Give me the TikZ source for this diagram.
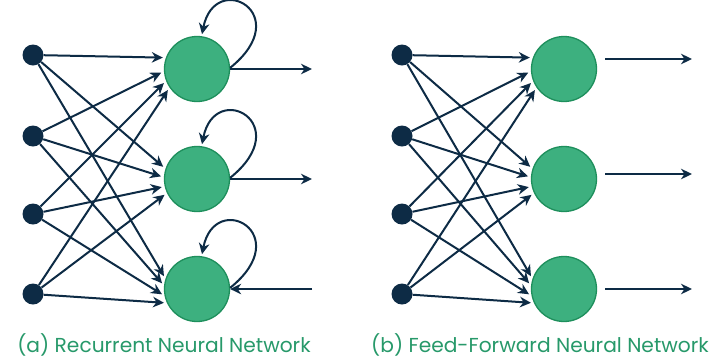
\documentclass[tikz,border=0pt]{standalone}
\usepackage{fontspec}
\setmainfont{Poppins}
\usetikzlibrary{arrows.meta,calc}
\definecolor{navy}{HTML}{0D2B45}
\definecolor{gfill}{HTML}{3DB07F}
\definecolor{gline}{HTML}{1E8F5C}
\definecolor{gtext}{HTML}{27996A}
\begin{document}
\begin{tikzpicture}[x=1pt,y=-1pt,
  inp/.style={circle,fill=navy,minimum size=21pt,inner sep=0pt},
  hid/.style={circle,fill=gfill,draw=gline,line width=1.3pt,minimum size=65pt,inner sep=0pt},
  arr/.style={draw=navy,line width=2pt,-{Stealth[length=11pt,width=10.5pt,inset=3.5pt]}},
  captxt/.style={text=gtext,font=\fontsize{20.2}{24}\selectfont,anchor=base}]
\fill[white] (0,0) rectangle (717,360);
\useasboundingbox (0,0) rectangle (717,360);
% ---------- (a) RNN ----------
\node[inp] (ri1) at (33,55) {};
\node[inp] (ri2) at (33,136) {};
\node[inp] (ri3) at (33,214) {};
\node[inp] (ri4) at (33,294) {};
\node[hid] (rh1) at (197,69) {};
\node[hid] (rh2) at (197,179) {};
\node[hid] (rh3) at (197,289) {};
% ---------- (b) FFNN ----------
\node[inp] (fi1) at (402,55) {};
\node[inp] (fi2) at (402,136) {};
\node[inp] (fi3) at (402,214) {};
\node[inp] (fi4) at (402,294) {};
\node[hid] (fh1) at (564,69) {};
\node[hid] (fh2) at (564,179) {};
\node[hid] (fh3) at (564,289) {};
% input -> hidden
\foreach \p in {r,f}{
  \foreach \j/\a/\b/\c/\d in {1/160/184/201/214, 2/162/177/193/205, 3/162/174/192/205}{
    \draw[arr,shorten >=3pt] (\p i1) -- (\p h\j.\a);
    \draw[arr,shorten >=3pt] (\p i2) -- (\p h\j.\b);
    \draw[arr,shorten >=3pt] (\p i3) -- (\p h\j.\c);
    \draw[arr,shorten >=3pt] (\p i4) -- (\p h\j.\d);
  }
}
% self loops
\foreach \j in {1,2,3}{
  \draw[arr,shorten >=2pt] (rh\j.2) .. controls ($(rh\j)+(100,-55)$) and ($(rh\j)+(18,-100)$) .. (rh\j.82);
}
% RNN outputs
\coordinate (ro1) at (312,69);
\coordinate (ro2) at (312,179);
\coordinate (ro3) at (312,289);
\draw[arr] (rh1.east) -- (ro1);
\draw[arr] (rh2.east) -- (ro2);
\draw[arr] (ro3) -- (rh3.east);
% FFNN outputs
\coordinate (fs1) at (605,59);  \coordinate (fo1) at (692,59);
\coordinate (fs2) at (605,174); \coordinate (fo2) at (692,174);
\coordinate (fs3) at (605,289); \coordinate (fo3) at (692,289);
\draw[arr] (fs1) -- (fo1);
\draw[arr] (fs2) -- (fo2);
\draw[arr] (fs3) -- (fo3);
% captions
\node[captxt] (capa) at (164,352) {(a) Recurrent Neural Network};
\node[captxt] (capb) at (540,352) {(b) Feed-Forward Neural Network};
\end{tikzpicture}
\end{document}
